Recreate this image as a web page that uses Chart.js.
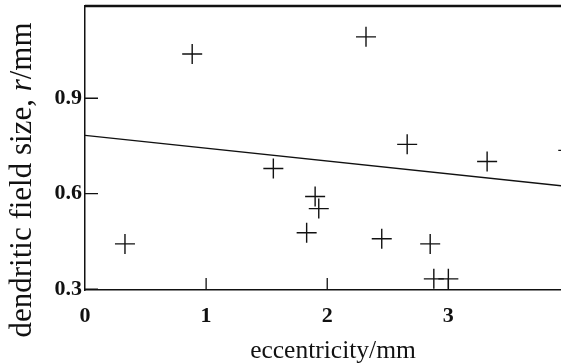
<!DOCTYPE html>
<html>
<head>
<meta charset="utf-8">
<script src="https://cdn.jsdelivr.net/npm/chart.js@4/dist/chart.umd.min.js"></script>
<style>
  html, body { margin: 0; padding: 0; background: #fff; }
  #wrap { width: 561px; height: 364px; }
</style>
</head>
<body>
<div id="wrap"><canvas id="scatterChart"></canvas></div>
<script>
// eccentricity (mm) vs dendritic field size (mm)
var eccentricity = [0.33, 0.885, 1.555, 1.83, 1.90, 1.93, 2.32, 2.45, 2.66, 2.85, 2.88, 3.0, 3.32, 3.99];
var fieldSize    = [0.442, 1.039, 0.679, 0.477, 0.591, 0.553, 1.093, 0.458, 0.755, 0.442, 0.332, 0.332, 0.701, 0.736];

// regression line end points
var fitX = [0, 4];
var fitY = [0.783, 0.622];

var xTicks = [0, 1, 2, 3];
var yTicks = [0.3, 0.6, 0.9];

var serif = '"Liberation Serif", "Times New Roman", serif';

// top frame line, inward tick marks and axis titles
var decorations = {
    id: 'decorations',
    afterDraw: function (chart) {
        var ctx = chart.ctx;
        var area = chart.chartArea;
        var xs = chart.scales.x, ys = chart.scales.y;
        ctx.save();
        ctx.strokeStyle = '#111';
        ctx.lineWidth = 2.5;
        ctx.beginPath();
        ctx.moveTo(area.left, area.top);
        ctx.lineTo(area.right, area.top);
        ctx.stroke();

        ctx.lineWidth = 1.3;
        ctx.beginPath();
        xTicks.forEach(function (v) {
            if (v === 0) return;
            var px = xs.getPixelForValue(v);
            ctx.moveTo(px, area.bottom);
            ctx.lineTo(px, area.bottom - 12);
        });
        yTicks.forEach(function (v) {
            var py = ys.getPixelForValue(v);
            ctx.moveTo(area.left, py);
            ctx.lineTo(area.left + 13, py);
        });
        ctx.stroke();

        // x title
        ctx.fillStyle = '#111';
        ctx.font = '25.5px ' + serif;
        ctx.textAlign = 'center';
        ctx.textBaseline = 'alphabetic';
        ctx.fillText('eccentricity/mm', 333, 358);

        // y title with italic r
        var parts = [
            { t: 'dendritic field size, ', f: '31px ' + serif },
            { t: 'r', f: 'italic 31px ' + serif },
            { t: '/mm', f: '31px ' + serif }
        ];
        var total = 0;
        parts.forEach(function (p) { ctx.font = p.f; p.w = ctx.measureText(p.t).width; total += p.w; });
        ctx.translate(31, 180);
        ctx.rotate(-Math.PI / 2);
        ctx.textAlign = 'left';
        var pos = -total / 2;
        parts.forEach(function (p) {
            ctx.font = p.f;
            ctx.fillText(p.t, pos, 0);
            pos += p.w;
        });
        ctx.restore();
    }
};

var ctxScatter = document.getElementById('scatterChart').getContext('2d');
var scatterChart = new Chart(ctxScatter, {
    type: 'scatter',
    data: {
        datasets: [{
            label: 'cells',
            data: eccentricity.map(function (x, i) { return { x: x, y: fieldSize[i] }; }),
            pointStyle: 'cross',
            pointRadius: 10,
            pointBorderWidth: 1.4,
            borderColor: '#111',
            backgroundColor: '#111'
        }, {
            type: 'line',
            label: 'fit',
            data: fitX.map(function (x, i) { return { x: x, y: fitY[i] }; }),
            borderColor: '#111',
            borderWidth: 1.3,
            pointRadius: 0,
            fill: false
        }]
    },
    options: {
        responsive: true,
        maintainAspectRatio: false,
        animation: false,
        layout: { autoPadding: false, padding: { top: 6, right: 0, bottom: 0, left: 0 } },
        plugins: {
            legend: { display: false },
            tooltip: { enabled: false }
        },
        scales: {
            x: {
                type: 'linear',
                min: 0,
                max: 3.93,
                afterBuildTicks: function (scale) {
                    scale.ticks = xTicks.map(function (v) { return { value: v }; });
                },
                afterFit: function (scale) {
                    scale.height = 74;
                    scale.paddingLeft = 0;
                    scale.paddingRight = 0;
                },
                grid: { display: false, drawTicks: false },
                border: { display: true, color: '#111', width: 1.5 },
                ticks: {
                    padding: 13,
                    color: '#111',
                    maxRotation: 0,
                    font: { family: serif, size: 22, weight: 'bold' }
                }
            },
            y: {
                type: 'linear',
                min: 0.297,
                max: 1.19,
                afterBuildTicks: function (scale) {
                    scale.ticks = yTicks.map(function (v) { return { value: v }; });
                },
                afterFit: function (scale) {
                    scale.width = 85;
                    scale.paddingTop = 0;
                    scale.paddingBottom = 0;
                },
                grid: { display: false, drawTicks: false },
                border: { display: true, color: '#111', width: 1.5 },
                ticks: {
                    padding: 3,
                    color: '#111',
                    callback: function (v) { return v.toFixed(1); },
                    font: { family: serif, size: 22, weight: 'bold' }
                }
            }
        }
    },
    plugins: [decorations]
});
</script>
</body>
</html>
